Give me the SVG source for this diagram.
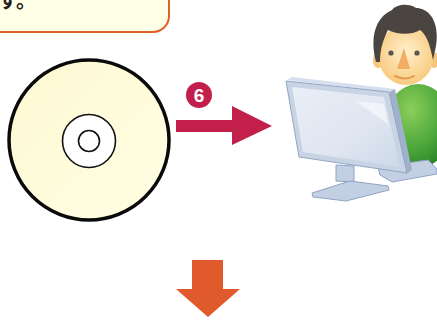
<svg xmlns="http://www.w3.org/2000/svg" width="437" height="320" viewBox="0 0 437 320">
  <defs>
    <style>
      .ring { fill: #ffffff; stroke: #111; stroke-width: 1.6; }
      .frame { fill: #c3d0e3; stroke: #8fa3c2; stroke-width: 1; }
      .badge-text { font-family: "Liberation Sans", Arial, sans-serif; font-weight: bold; font-size: 19px; fill: #fff; }
    </style>
    <linearGradient id="discFill" x1="0" y1="0" x2="1" y2="1">
      <stop offset="0" stop-color="#fdf8d2"/>
      <stop offset="1" stop-color="#ffffe4"/>
    </linearGradient>
    <linearGradient id="screenFill" x1="0" y1="0" x2="1" y2="1">
      <stop offset="0" stop-color="#e9eef7"/>
      <stop offset="0.6" stop-color="#dfe6f1"/>
      <stop offset="1" stop-color="#cdd8e8"/>
    </linearGradient>
    <radialGradient id="bodyFill" cx="0.4" cy="0.3" r="0.8">
      <stop offset="0" stop-color="#8ccf5a"/>
      <stop offset="0.6" stop-color="#4aa53a"/>
      <stop offset="1" stop-color="#237d23"/>
    </radialGradient>
    <radialGradient id="faceFill" cx="0.5" cy="0.45" r="0.6">
      <stop offset="0" stop-color="#fff0cc"/>
      <stop offset="1" stop-color="#f8c778"/>
    </radialGradient>
  </defs>

  <!-- speech box, mostly off the top edge -->
  <g id="note">
    <rect x="-20" y="-40" width="189" height="72" rx="16" ry="16" fill="#fffee6" stroke="#e0602a" stroke-width="2"/>
    <text x="-2" y="8" font-family="'Noto Sans CJK JP', sans-serif" font-weight="bold" font-size="20" fill="#222">す。</text>
  </g>

  <!-- disc -->
  <g id="disc">
    <circle cx="89" cy="140" r="80" fill="url(#discFill)" stroke="#0a0a0a" stroke-width="3.5"/>
    <circle class="ring" cx="89" cy="141" r="26.5"/>
    <circle class="ring" cx="89" cy="141" r="10.5"/>
  </g>

  <!-- user at computer -->
  <g id="user">
    <!-- body -->
    <ellipse cx="418" cy="126" rx="34" ry="42" fill="url(#bodyFill)"/>
    <!-- ears -->
    <ellipse cx="378" cy="60" rx="5" ry="8" fill="#f6c57a"/>
    <ellipse cx="434" cy="60" rx="5" ry="8" fill="#f6c57a"/>
    <!-- face -->
    <ellipse cx="406" cy="55" rx="28" ry="30" fill="url(#faceFill)"/>
    <!-- hair -->
    <path d="M376,62 C370,40 374,18 392,10 C398,3 410,4 416,8 C428,8 440,20 436,46 L433,60 C430,44 426,34 420,30 C410,36 396,34 388,30 C384,38 380,48 380,62 Z" fill="#4a4540"/>
    <!-- eyes, nose, mouth -->
    <circle cx="391" cy="53" r="2.6" fill="#555"/>
    <circle cx="417" cy="53" r="2.6" fill="#555"/>
    <path d="M404,48 L397,69 L410,69 Z" fill="#f3ad62"/>
    <path d="M395,76 Q405,81 414,76" fill="none" stroke="#e59a50" stroke-width="2" stroke-linecap="round"/>

    <!-- back base plate -->
    <polygon class="frame" points="378,167 428,160 437,169 437,174 392,182 380,175"/>
    <!-- neck -->
    <polygon class="frame" points="336,165 354,166 354,182 336,181"/>
    <!-- front base plate -->
    <polygon class="frame" points="312,193 350,181 388,186 389,190 346,201 313,197"/>
    <!-- monitor side depth -->
    <polygon points="389,92 395,89 412,170 406,174" fill="#9fb1cc"/>
    <!-- monitor bezel -->
    <polygon points="287,80 292,77 395,89 389,92" fill="#d6dfed"/>
    <polygon points="286,81 389,92 407,173 299,157" fill="#c8d3e4" stroke="#92a6c4" stroke-width="1"/>
    <!-- screen -->
    <polygon points="292,87 384,97 400,167 303,152" fill="url(#screenFill)"/>
    <path d="M355,101 L384,104 L388,124 Z" fill="#f4f7fb" opacity="0.8"/>
  </g>

  <!-- connectors -->
  <g id="connectors">
    <polygon points="176,120 232,120 232,106 272,126 232,145 232,132 176,132" fill="#c2204b"/>
    <polygon points="192,260 223,260 223,289 240,289 208,317 176,289 192,289" fill="#e05a2c"/>
  </g>

  <!-- step badge -->
  <g id="step6">
    <circle cx="199" cy="95" r="13" fill="#c2204b"/>
    <text class="badge-text" x="199" y="102" text-anchor="middle">6</text>
  </g>
</svg>
